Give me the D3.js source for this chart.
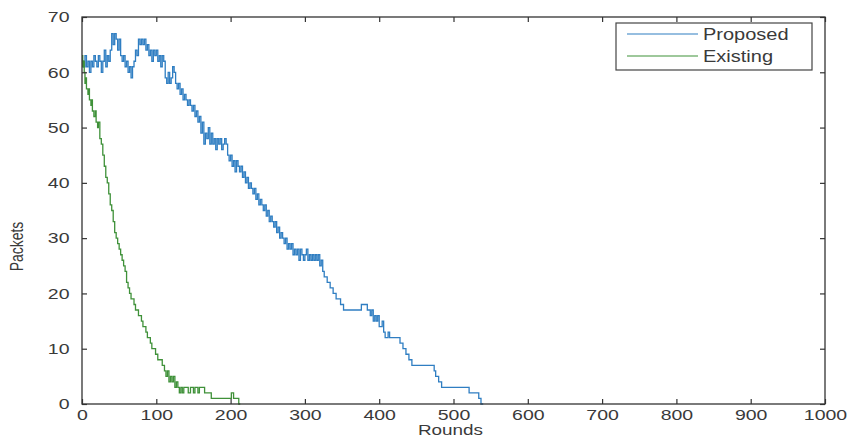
<!DOCTYPE html>
<html>
  <head>
    <meta charset="utf-8">
    <title>Packets vs Rounds</title>
    <script src="https://cdnjs.cloudflare.com/ajax/libs/d3/7.8.5/d3.min.js" charset="utf-8"></script>
    <style>
      body { margin: 0; background: #fff; }
      text { font-family: "Liberation Sans", Arial, sans-serif; fill: #3a3a3a; }
    </style>
  </head>
  <body>
    <div id="chart"></div>
    <script>

// tick labels
var xTicks = [0, 100, 200, 300, 400, 500, 600, 700, 800, 900, 1000];
var yTicks = [0, 10, 20, 30, 40, 50, 60, 70];

var seriesNames = ["Proposed", "Existing"];

// [round, packets] (drawn as stairs)
var proposed = [
  [0,62],[2,61],[4,63],[6,61],[8,62],[10,60],[12,62],[14,61],[16,63],[18,62],
  [20,61],[22,63],[24,62],[26,60],[28,62],[30,64],[32,61],[34,63],[36,62],[38,64],
  [40,67],[42,65],[44,67],[46,66],[48,64],[50,66],[52,63],[54,62],[56,63],[58,61],
  [60,62],[62,60],[64,61],[66,59],[68,61],[70,62],[72,64],[74,63],[76,66],[78,65],
  [80,66],[82,65],[84,66],[86,64],[88,65],[90,63],[92,64],[94,62],[96,64],[98,63],
  [100,64],[102,62],[104,63],[106,61],[108,63],[110,62],[112,59],[114,58],[116,60],[118,58],
  [120,59],[122,61],[124,60],[126,58],[128,57],[130,58],[132,56],[134,57],[136,55],[138,56],
  [140,55],[142,54],[144,55],[146,54],[148,53],[150,54],[152,52],[154,53],[156,51],[158,52],
  [160,49],[162,51],[164,47],[166,49],[168,48],[170,50],[172,47],[174,49],[176,47],[178,48],
  [180,46],[182,48],[184,47],[186,48],[188,46],[190,47],[192,48],[194,47],[196,45],[198,44],
  [200,45],[202,43],[204,44],[206,42],[208,44],[210,43],[212,42],[214,43],[216,41],[218,42],
  [220,40],[222,41],[224,39],[226,40],[228,39],[230,38],[232,39],[234,37],[236,38],[238,36],
  [240,37],[242,36],[244,35],[246,36],[248,34],[250,35],[252,33],[254,34],[256,33],[258,32],
  [260,33],[262,31],[264,32],[266,30],[268,31],[270,30],[272,29],[274,30],[276,28],[278,29],
  [280,28],[282,29],[284,27],[286,28],[288,27],[290,28],[292,26],[294,28],[296,27],[298,26],
  [300,27],[302,28],[304,26],[306,27],[308,26],[310,27],[312,26],[314,27],[316,26],[318,27],
  [320,25],[322,26],[324,24],[326,23],[330,22],[334,21],[338,20],[342,19],[348,18],[352,17],
  [376,18],[384,17],[388,16],[390,17],[392,15],[394,16],[396,15],[398,16],[400,14],[404,15],
  [406,13],[408,12],[412,13],[414,12],[428,11],[432,10],[436,9],[440,8],[444,7],[474,6],
  [476,5],[480,4],[484,3],[521,2],[534,1],[537,0],[540,0]
];

var existing = [
  [0,63],[1,61],[2,62],[3,60],[4,58],[5,59],[6,57],[8,56],[9,57],[10,55],
  [12,54],[13,55],[14,53],[16,52],[18,53],[19,51],[21,50],[22,51],[24,48],[26,47],
  [28,45],[30,43],[32,41],[34,40],[36,38],[38,36],[40,35],[42,33],[44,31],[46,30],
  [48,29],[50,28],[52,27],[54,26],[56,25],[58,24],[60,22],[62,21],[64,20],[66,19],
  [68,19],[70,18],[72,17],[74,17],[76,16],[78,16],[80,15],[82,14],[84,14],[86,13],
  [88,12],[90,12],[92,11],[94,10],[97,10],[99,9],[102,8],[105,8],[108,7],[111,6],
  [113,5],[115,6],[117,4],[119,5],[121,4],[123,5],[125,3],[127,4],[129,3],[131,2],
  [133,3],[135,2],[137,3],[140,3],[143,2],[146,3],[150,2],[152,3],[156,2],[158,3],
  [162,3],[165,2],[170,2],[174,1],[201,2],[204,1],[211,0],[213,0]
];

var colors = ["#2f7ec2", "#3f9139"];

window.addEventListener("load", run);

function run () {
    var W = 851, H = 438;
    var m = {left: 82, right: 26, top: 17, bottom: 34};
    var w = W - m.left - m.right, h = H - m.top - m.bottom;
    var sx = 1.25; // scanned text looks stretched sideways

    var svg = d3.select("#chart").append("svg")
        .attr("width", W).attr("height", H);
    var g = svg.append("g").attr("transform", "translate(" + m.left + "," + m.top + ")");

    var x = d3.scaleLinear().domain([0, 1000]).range([0, w]);
    var y = d3.scaleLinear().domain([0, 70]).range([h, 0]);

    var line = d3.line()
        .x(function(d) { return x(d[0]); })
        .y(function(d) { return y(d[1]); })
        .curve(d3.curveStepAfter);

    [proposed, existing].forEach(function(s, i) {
        g.append("path")
            .datum(s)
            .attr("fill", "none")
            .attr("stroke", colors[i])
            .attr("stroke-width", 1.3)
            .attr("d", line);
    });

    // axes, ticks inside on all four sides
    var bottom = g.append("g").attr("transform", "translate(0," + h + ")")
        .call(d3.axisBottom(x).tickValues(xTicks).tickFormat(d3.format("d"))
              .tickSizeInner(-5).tickSizeOuter(0).tickPadding(5));
    var left = g.append("g")
        .call(d3.axisLeft(y).tickValues(yTicks).tickSizeInner(-5).tickSizeOuter(0).tickPadding(12));
    g.append("g")
        .call(d3.axisTop(x).tickValues(xTicks).tickSizeInner(-5).tickSizeOuter(0).tickFormat(""));
    g.append("g").attr("transform", "translate(" + w + ",0)")
        .call(d3.axisRight(y).tickValues(yTicks).tickSizeInner(-5).tickSizeOuter(0).tickFormat(""));

    g.selectAll(".domain").remove();
    g.selectAll(".tick line").attr("stroke", "#333").attr("stroke-width", 1.2);
    g.append("rect")
        .attr("width", w).attr("height", h)
        .attr("fill", "none").attr("stroke", "#333").attr("stroke-width", 1.3);

    [bottom, left].forEach(function(a) {
        a.selectAll("text")
            .attr("font-family", "Liberation Sans, Arial, sans-serif")
            .attr("font-size", 15)
            .attr("fill", "#3a3a3a")
            .attr("x", function() { return +d3.select(this).attr("x") / sx; })
            .attr("transform", "scale(" + (sx + 0.05) + ",1)");
    });

    // axis titles
    svg.append("text")
        .attr("transform", "translate(" + (m.left + w / 2 - 3) + ",435) scale(1.35,1)")
        .attr("text-anchor", "middle")
        .attr("font-size", 14)
        .text("Rounds");
    svg.append("text")
        .attr("transform", "translate(23," + (m.top + h / 2 + 36) + ") rotate(-90) scale(1," + sx + ")")
        .attr("text-anchor", "middle")
        .attr("font-size", 14)
        .text("Packets");

    // legend
    var lg = svg.append("g").attr("transform", "translate(616,23)");
    lg.append("rect")
        .attr("width", 196).attr("height", 47)
        .attr("fill", "#fff").attr("stroke", "#444").attr("stroke-width", 1.2);
    seriesNames.forEach(function(n, i) {
        var yy = 11 + i * 22;
        lg.append("line")
            .attr("x1", 11).attr("x2", 82)
            .attr("y1", yy).attr("y2", yy)
            .attr("stroke", colors[i]).attr("stroke-width", 1.2);
        lg.append("text")
            .attr("transform", "translate(87," + (yy + 6) + ") scale(" + sx + ",1)")
            .attr("font-size", 16)
            .text(n);
    });
}
    </script>
  </body>
</html>
